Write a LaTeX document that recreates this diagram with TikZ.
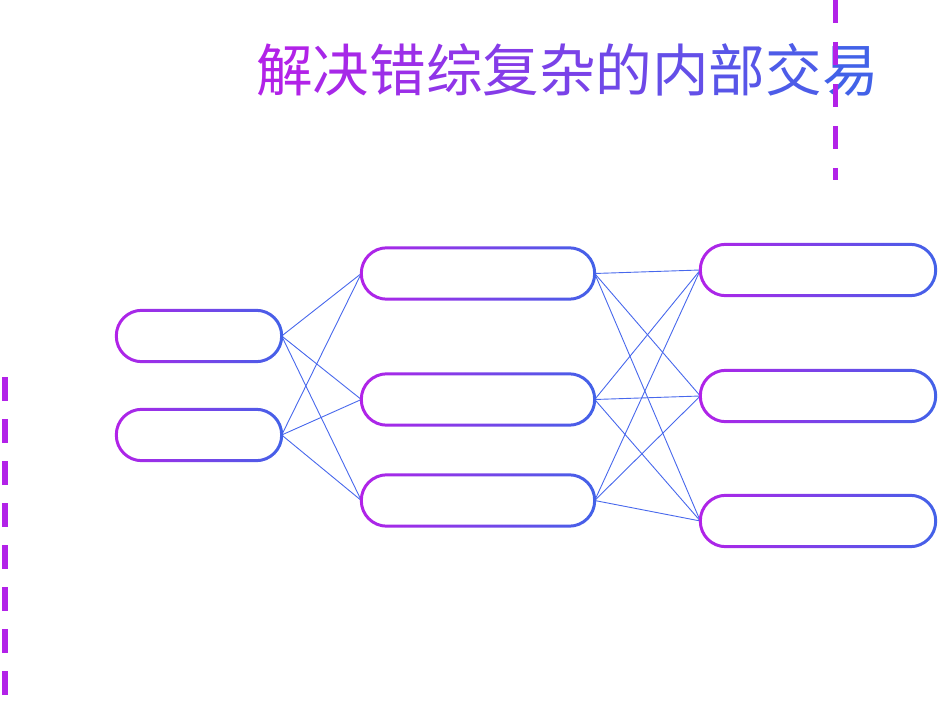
\documentclass[tikz,border=0pt]{standalone}
\usepackage{fontspec}
\newfontfamily\cjk{Noto Sans CJK SC}
\definecolor{cpurple}{RGB}{178,34,232}
\definecolor{cblue}{RGB}{66,98,232}
\definecolor{clink}{RGB}{72,104,236}
\tikzset{
  pill/.style={draw=none, rectangle, minimum width=#1, minimum height=51pt, inner sep=0pt},
  link/.style={draw=clink, line width=0.9pt},
  dashline/.style={draw=cpurple, line width=5pt},
}
\newcommand\gradring[1]{%
  \shade[left color=cpurple, right color=cblue, even odd rule]
    [rounded corners=27pt] ([shift={(-1.5pt,-1.5pt)}]#1.south west) rectangle ([shift={(1.5pt,1.5pt)}]#1.north east)
    [rounded corners=24pt] ([shift={(1.5pt,1.5pt)}]#1.south west) rectangle ([shift={(-1.5pt,-1.5pt)}]#1.north east);}
\newcommand\tc[2]{\textcolor{cblue!#1!cpurple}{#2}}
\begin{document}
\begin{tikzpicture}[x=1pt, y=-1pt]
\useasboundingbox (0,0) rectangle (938,714);
% title
\node[anchor=west, inner sep=0pt, font=\cjk\fontsize{56.6}{60}\selectfont] (title) at (256,70)
  {\tc{0}{解}\tc{10}{决}\tc{20}{错}\tc{30}{综}\tc{40}{复}\tc{50}{杂}\tc{60}{的}\tc{70}{内}\tc{80}{部}\tc{90}{交}\tc{100}{易}};
% dashed lines
\coordinate (d1a) at (835,0);
\coordinate (d1b) at (835,180);
\draw[dashline, dash pattern=on 23pt off 19pt] (d1a) -- (d1b);
\coordinate (d2a) at (4.5,377);
\coordinate (d2b) at (4.5,696);
\draw[dashline, line width=6pt, dash pattern=on 24pt off 18pt] (d2a) -- (d2b);
% nodes
\node[pill=165pt] (l1) at (199,336) {};
\node[pill=165pt] (l2) at (199,435) {};
\node[pill=233pt] (m1) at (478,273.5) {};
\node[pill=233pt] (m2) at (478,399.5) {};
\node[pill=233pt] (m3) at (478,500.5) {};
\node[pill=235pt] (r1) at (818,270) {};
\node[pill=235pt] (r2) at (818,396) {};
\node[pill=235pt] (r3) at (818,521) {};
% connectors
\foreach \a in {l1,l2}{\foreach \b in {m1,m2,m3}{\draw[link] (\a.east) -- (\b.west);}}
\foreach \a in {m1,m2,m3}{\foreach \b in {r1,r2,r3}{\draw[link] (\a.east) -- (\b.west);}}
% box outlines
\foreach \n in {l1,l2,m1,m2,m3,r1,r2,r3}{\gradring{\n}}
\end{tikzpicture}
\end{document}
